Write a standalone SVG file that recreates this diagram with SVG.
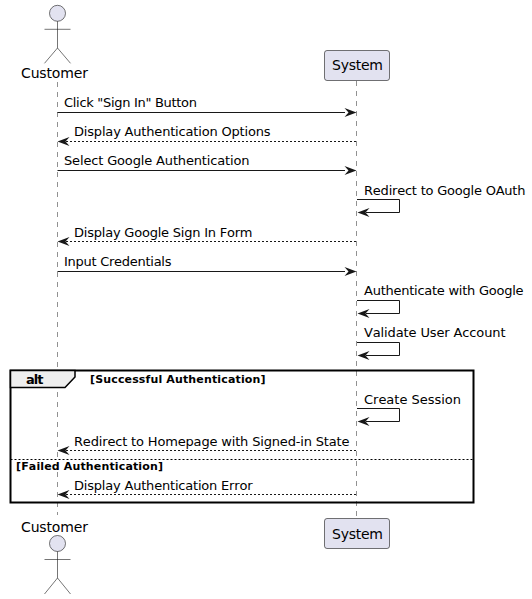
<svg xmlns="http://www.w3.org/2000/svg" width="532" height="599" viewBox="0 0 532 599">
<style>
text{font-family:"DejaVu Sans",sans-serif;fill:#000;font-kerning:none}
.n{font-size:14px}
.m{font-size:13px}
.b{font-size:13px;font-weight:bold}
.g{font-size:11px;font-weight:bold}
.life{stroke:#181818;stroke-opacity:.6;stroke-width:.8;stroke-dasharray:5,5;fill:none}
.act{fill:#E2E2F0;stroke:#181818;stroke-opacity:.75;stroke-width:.8}
.stick{fill:none;stroke:#181818;stroke-opacity:.75;stroke-width:.8}
.msg{fill:none;stroke:#181818;stroke-width:1}
.dash{stroke-dasharray:2,2}
.frame{fill:none;stroke:#000;stroke-width:2}
.tab{fill:#EEEEEE;stroke:#000;stroke-width:1.5}
.sep{stroke:#000;stroke-width:1;stroke-dasharray:2,2}
</style>
<defs>
<path id="ar" d="M0 0L12 -4.5L8 0L12 4.5Z" fill="#181818"/>
<path id="rr" d="M0 0L-12 -4.5L-8 0L-12 4.5Z" fill="#181818"/>
</defs>
<g id="lifelines">
<line class="life" x1="57.5" y1="82" x2="57.5" y2="515"/>
<line class="life" x1="356.5" y1="81" x2="356.5" y2="518"/>
</g>
<g id="actor-customer-top">
<circle class="act" cx="57.5" cy="13.3" r="8"/>
<path class="stick" d="M57.5 21.3V48M44.5 29.3H70.5M44.5 63.3L57.5 48L70.5 63.3"/>
<text class="n" x="21" y="78" textLength="67">Customer</text>
</g>
<g id="participant-system-top">
<rect class="act" x="324.5" y="50.5" width="65" height="30" rx="2.5"/>
<text class="n" x="332" y="70" textLength="51">System</text>
</g>
<g id="alt-frame">
<rect class="frame" x="10.5" y="370.5" width="463" height="132"/>
<path class="tab" d="M10.5 370.5H75V377L65 387.5H10.5Z"/>
<text class="b" x="26" y="384" textLength="17.5">alt</text>
<text class="g" x="90" y="383" textLength="175.5">[Successful Authentication]</text>
<line class="sep" x1="10.5" y1="459.5" x2="473.5" y2="459.5"/>
<text class="g" x="16" y="470" textLength="147">[Failed Authentication]</text>
</g>
<g id="connectors">
<line class="msg" x1="57.5" y1="112.5" x2="345" y2="112.5"/><use href="#rr" x="356.5" y="112.5"/>
<line class="msg dash" x1="66" y1="141.5" x2="356.5" y2="141.5"/><use href="#ar" x="57.5" y="141.5"/>
<line class="msg" x1="57.5" y1="170.5" x2="345" y2="170.5"/><use href="#rr" x="356.5" y="170.5"/>
<path class="msg" d="M357 199.5H399.5V212.5H366"/><use href="#ar" x="357.5" y="212.5"/>
<line class="msg dash" x1="66" y1="241.5" x2="356.5" y2="241.5"/><use href="#ar" x="57.5" y="241.5"/>
<line class="msg" x1="57.5" y1="271.5" x2="345" y2="271.5"/><use href="#rr" x="356.5" y="271.5"/>
<path class="msg" d="M357 300.5H399.5V313.5H366"/><use href="#ar" x="357.5" y="313.5"/>
<path class="msg" d="M357 342.5H399.5V355.5H366"/><use href="#ar" x="357.5" y="355.5"/>
<path class="msg" d="M357 408.5H399.5V421.5H366"/><use href="#ar" x="357.5" y="421.5"/>
<line class="msg dash" x1="66" y1="450.5" x2="356.5" y2="450.5"/><use href="#ar" x="57.5" y="450.5"/>
<line class="msg dash" x1="66" y1="494.5" x2="356.5" y2="494.5"/><use href="#ar" x="57.5" y="494.5"/>
</g>
<g id="labels">
<text class="m" x="64" y="107" textLength="133">Click "Sign In" Button</text>
<text class="m" x="74" y="136" textLength="196.5">Display Authentication Options</text>
<text class="m" x="64" y="165" textLength="185.5">Select Google Authentication</text>
<text class="m" x="364" y="195" textLength="161.5">Redirect to Google OAuth</text>
<text class="m" x="74" y="237" textLength="178.5">Display Google Sign In Form</text>
<text class="m" x="64" y="266" textLength="107.5">Input Credentials</text>
<text class="m" x="364" y="294.5" textLength="159.5">Authenticate with Google</text>
<text class="m" x="364" y="337" textLength="141.5">Validate User Account</text>
<text class="m" x="364" y="404" textLength="97">Create Session</text>
<text class="m" x="74" y="446" textLength="275.5">Redirect to Homepage with Signed-in State</text>
<text class="m" x="74" y="490" textLength="178.5">Display Authentication Error</text>
</g>
<g id="actor-customer-bottom">
<text class="n" x="21" y="532" textLength="67">Customer</text>
<circle class="act" cx="57.5" cy="543.5" r="8"/>
<path class="stick" d="M57.5 551.5V578M44.5 559.5H70.5M44.5 594L57.5 578L70.5 594"/>
</g>
<g id="participant-system-bottom">
<rect class="act" x="324.5" y="518.5" width="65" height="30" rx="2.5"/>
<text class="n" x="332" y="539" textLength="51">System</text>
</g>
</svg>
